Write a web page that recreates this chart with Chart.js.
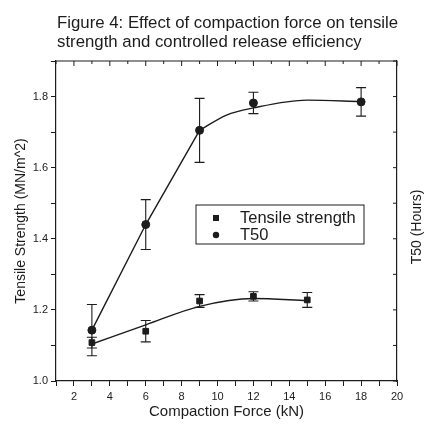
<!DOCTYPE html>
<html>
<head>
<meta charset="utf-8">
<script src="https://cdn.jsdelivr.net/npm/chart.js@4.4.1/dist/chart.umd.min.js"></script>
<style>
  html, body { margin: 0; padding: 0; background: #fff; }
  #wrap { width: 426px; height: 424px; }
</style>
</head>
<body>
<div id="wrap"><canvas id="fig" width="426" height="424"></canvas></div>
<script>
// values
const titleLines = ['Figure 4: Effect of compaction force on tensile', 'strength and controlled release efficiency'];

const forceTensile = [3, 6, 9, 12, 15];
const tensileStrength = [1.108, 1.14, 1.225, 1.238, 1.228];
const tensileErr = [0.015, 0.03, 0.018, 0.013, 0.021];

const forceT50 = [3, 6, 9, 12, 18];
const t50 = [1.143, 1.44, 1.705, 1.782, 1.785];
const t50Err = [0.072, 0.07, 0.09, 0.03, 0.04];

// fitted lines as drawn in the figure
const tensileFitX = [3, 6, 9, 12, 15];
const tensileFitY = [1.104, 1.158, 1.21, 1.232, 1.226];
const t50LineX = [3, 6, 9];
const t50LineY = [1.143, 1.44, 1.705];
const t50CurveX = [9, 10.5, 12, 15, 18];
const t50CurveY = [1.705, 1.748, 1.768, 1.79, 1.786];

const INK = '#1c1c1c';
const FONT = "'Liberation Sans', Arial, sans-serif";

const pts = (xs, ys) => xs.map((x, i) => ({ x, y: ys[i] }));

/* error bars, drawn through the scales */
const errorBars = {
    id: 'errorBars',
    beforeDatasetsDraw(chart) {
        const ctx = chart.ctx;
        chart.data.datasets.forEach((ds, di) => {
            if (!ds.errors) return;
            const meta = chart.getDatasetMeta(di);
            const sy = chart.scales[meta.yAxisID];
            ctx.save();
            ctx.strokeStyle = INK;
            ctx.lineWidth = 1.1;
            ds.data.forEach((p, i) => {
                const x = meta.data[i].x;
                const yt = sy.getPixelForValue(p.y + ds.errors[i]);
                const yb = sy.getPixelForValue(p.y - ds.errors[i]);
                ctx.beginPath();
                ctx.moveTo(x, yt); ctx.lineTo(x, yb);
                ctx.moveTo(x - 5, yt); ctx.lineTo(x + 5, yt);
                ctx.moveTo(x - 5, yb); ctx.lineTo(x + 5, yb);
                ctx.stroke();
            });
            ctx.restore();
        });
    }
};

/* title, top/right frame with inward ticks, right axis title, legend box */
const decor = {
    id: 'decor',
    afterDraw(chart) {
        const ctx = chart.ctx;
        const { left, right, top, bottom } = chart.chartArea;
        ctx.save();
        ctx.fillStyle = INK;
        ctx.strokeStyle = INK;

        ctx.font = `16.8px ${FONT}`;
        ctx.textBaseline = 'alphabetic';
        ctx.textAlign = 'left';
        ctx.fillText(titleLines[0], 57, 28);
        ctx.fillText(titleLines[1], 57, 47);

        ctx.lineWidth = 1.2;
        ctx.beginPath();
        ctx.moveTo(left, top); ctx.lineTo(right, top);
        ctx.stroke();

        ctx.lineWidth = 1;
        ctx.beginPath();
        chart.scales.x.ticks.forEach(t => {
            const x = chart.scales.x.getPixelForValue(t.value);
            ctx.moveTo(x, top); ctx.lineTo(x, top + (t.value % 2 === 0 ? 5 : 3));
        });
        chart.scales.y2.ticks.forEach(t => {
            const y = chart.scales.y2.getPixelForValue(t.value);
            ctx.moveTo(right, y); ctx.lineTo(right - 4, y);
        });
        ctx.stroke();

        ctx.save();
        ctx.translate(417, (top + bottom) / 2 + 6);
        ctx.rotate(-Math.PI / 2);
        ctx.font = `14px ${FONT}`;
        ctx.textAlign = 'center';
        ctx.textBaseline = 'middle';
        ctx.fillText('T50 (Hours)', 0, 0);
        ctx.restore();

        // legend
        const lx = 196, ly = 205, lw = 168, lh = 39;
        ctx.lineWidth = 1;
        ctx.strokeRect(lx, ly, lw, lh);
        ctx.font = `16.5px ${FONT}`;
        ctx.textBaseline = 'middle';
        ctx.textAlign = 'left';
        ctx.fillRect(216 - 3, 218 - 3, 6, 6);
        ctx.fillText(chart.data.datasets[0].label, 240, 218);
        ctx.beginPath();
        ctx.arc(216, 235, 3.2, 0, Math.PI * 2);
        ctx.fill();
        ctx.fillText(chart.data.datasets[1].label, 240, 235);
        ctx.restore();
    }
};

new Chart(document.getElementById('fig'), {
    type: 'scatter',
    data: {
        datasets: [
            {
                label: 'Tensile strength',
                data: pts(forceTensile, tensileStrength),
                errors: tensileErr,
                pointStyle: 'rect',
                pointRadius: 4,
                backgroundColor: INK,
                borderColor: INK,
                yAxisID: 'y'
            },
            {
                label: 'T50',
                data: pts(forceT50, t50),
                errors: t50Err,
                pointStyle: 'circle',
                pointRadius: 4,
                backgroundColor: INK,
                borderColor: INK,
                yAxisID: 'y2'
            },
            {
                label: 'tensile fit',
                data: pts(tensileFitX, tensileFitY),
                showLine: true,
                pointRadius: 0,
                borderColor: INK,
                borderWidth: 1.4,
                cubicInterpolationMode: 'monotone',
                yAxisID: 'y'
            },
            {
                label: 'T50 line',
                data: pts(t50LineX, t50LineY),
                showLine: true,
                pointRadius: 0,
                borderColor: INK,
                borderWidth: 1.4,
                tension: 0,
                yAxisID: 'y2'
            },
            {
                label: 'T50 fit',
                data: pts(t50CurveX, t50CurveY),
                showLine: true,
                pointRadius: 0,
                borderColor: INK,
                borderWidth: 1.4,
                cubicInterpolationMode: 'monotone',
                yAxisID: 'y2'
            }
        ]
    },
    options: {
        responsive: false,
        animation: false,
        layout: { padding: { top: 61, left: 0, right: 0, bottom: 0 } },
        plugins: {
            legend: { display: false },
            tooltip: { enabled: false }
        },
        scales: {
            x: {
                type: 'linear',
                min: 1,
                max: 20,
                afterFit: s => { s.height = 43; },
                border: { color: INK, width: 1.2 },
                grid: { drawOnChartArea: false, tickLength: 5, color: INK },
                ticks: {
                    stepSize: 1,
                    autoSkip: false,
                    maxRotation: 0,
                    padding: 4,
                    color: INK,
                    font: { family: FONT, size: 11 },
                    callback: v => (v % 2 === 0 ? String(v) : '')
                },
                title: {
                    display: true,
                    text: 'Compaction Force (kN)',
                    color: INK,
                    font: { family: FONT, size: 15 },
                    padding: { top: 0, bottom: 3 }
                }
            },
            y: {
                position: 'left',
                min: 1.0,
                max: 1.9,
                afterFit: s => { s.width = 56; },
                border: { color: INK, width: 1.2 },
                grid: { drawOnChartArea: false, tickLength: 5, color: INK },
                ticks: {
                    stepSize: 0.1,
                    autoSkip: false,
                    padding: 3,
                    color: INK,
                    font: { family: FONT, size: 11 },
                    callback: v => (Math.round(v * 10) % 2 === 0 && v < 1.85 ? v.toFixed(1) : '')
                },
                title: {
                    display: true,
                    text: 'Tensile Strength (MN/m^2)',
                    color: INK,
                    font: { family: FONT, size: 14 },
                    padding: { top: 13, bottom: 0 }
                }
            },
            y2: {
                position: 'right',
                min: 1.0,
                max: 1.9,
                afterFit: s => { s.width = 29; },
                border: { color: INK, width: 1.2 },
                grid: { drawOnChartArea: false, drawTicks: false },
                ticks: { stepSize: 0.1, display: false }
            }
        }
    },
    plugins: [errorBars, decor]
});
</script>
</body>
</html>
